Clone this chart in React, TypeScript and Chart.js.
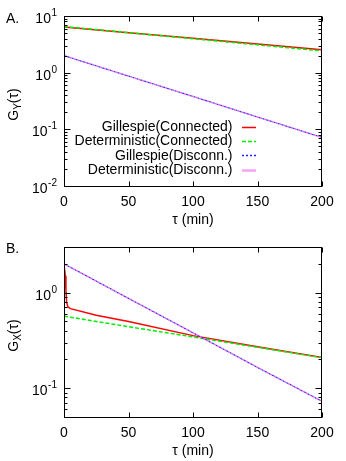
import React, { useEffect, useRef } from "react";
import { Chart, registerables } from "chart.js";
Chart.register(...registerables);

// ---- data ----
const tauA = [0, 50, 100, 150, 200];
const aGillespieConnected = [6.4, 5.08, 4.04, 3.21, 2.55];
const aDeterministicConnected = [6.5, 5.09, 3.97, 3.1, 2.42];
const aGillespieDisconn = [2.0, 0.87, 0.38, 0.165, 0.072];
const aDeterministicDisconn = [2.0, 0.87, 0.38, 0.165, 0.072];

const tauBGillespie = [0, 1, 1.5, 2, 3, 5, 25, 50, 100, 150, 200];
const bGillespieConnected = [2.0, 1.5, 1.05, 0.8, 0.71, 0.68, 0.58, 0.5, 0.355, 0.272, 0.21];
const tauB = [0, 50, 100, 150, 200];
const bDeterministicConnected = [0.567, 0.44, 0.344, 0.268, 0.209];
const bGillespieDisconn = [2.0, 0.87, 0.38, 0.165, 0.073];
const bDeterministicDisconn = [2.0, 0.87, 0.38, 0.165, 0.073];

const xTicks = [0, 50, 100, 150, 200];
const aYMajor = [0.01, 0.1, 1, 10];
const aYMajorExp = ["-2", "-1", "0", "1"];
const aYMinor = [0.02, 0.03, 0.04, 0.05, 0.06, 0.07, 0.08, 0.09, 0.2, 0.3, 0.4, 0.5, 0.6, 0.7, 0.8, 0.9, 2, 3, 4, 5, 6, 7, 8, 9];
const bYMajor = [0.1, 1];
const bYMajorExp = ["-1", "0"];
const bYMinor = [0.05, 0.06, 0.07, 0.08, 0.09, 0.2, 0.3, 0.4, 0.5, 0.6, 0.7, 0.8, 0.9, 2, 3];
const legendLabels = ["Gillespie(Connected)", "Deterministic(Connected)", "Gillespie(Disconn.)", "Deterministic(Disconn.)"];

const FONT = '"Liberation Sans", Arial, Helvetica, sans-serif';

const pts = (xs: number[], ys: number[]) => xs.map((x, i) => ({ x, y: ys[i] }));

type PanelCfg = {
  panel: string;
  sub: string;
  yMin: number;
  yMax: number;
  yMajor: number[];
  yMajorExp: string[];
  yMinor: number[];
  legend: boolean;
  padTop: number;
  padBottom: number;
  height: number;
  series: { gc: any[]; dc: any[]; gd: any[]; dd: any[] };
};

function makePlugin(cfg: PanelCfg) {
  return {
    id: "gnuplotDecor" + cfg.panel,
    afterDraw(chart: any) {
      const ctx = chart.ctx as CanvasRenderingContext2D;
      const xs = chart.scales.x;
      const ys = chart.scales.y;
      const a = chart.chartArea;
      const L = Math.round(a.left) + 0.5;
      const R = Math.round(a.right) - 0.5;
      const T = Math.round(a.top) + 0.5;
      const B = Math.round(a.bottom) + 0.5;
      ctx.save();
      ctx.strokeStyle = "#000";
      ctx.lineWidth = 1;
      ctx.setLineDash([]);
      // frame
      ctx.strokeRect(L, T, R - L, B - T);
      // ticks
      ctx.beginPath();
      for (const v of xTicks) {
        const px = Math.round(xs.getPixelForValue(v)) + 0.5;
        ctx.moveTo(px, B);
        ctx.lineTo(px, B - 5);
        ctx.moveTo(px, T);
        ctx.lineTo(px, T + 5);
      }
      for (const v of cfg.yMajor) {
        const py = Math.round(ys.getPixelForValue(v)) + 0.5;
        ctx.moveTo(L, py);
        ctx.lineTo(L + 6, py);
        ctx.moveTo(R, py);
        ctx.lineTo(R - 6, py);
      }
      for (const v of cfg.yMinor) {
        const py = Math.round(ys.getPixelForValue(v)) + 0.5;
        ctx.moveTo(L, py);
        ctx.lineTo(L + 3, py);
        ctx.moveTo(R, py);
        ctx.lineTo(R - 3, py);
      }
      ctx.stroke();

      ctx.fillStyle = "#000";
      // x tick labels
      ctx.font = `14px ${FONT}`;
      ctx.textAlign = "center";
      ctx.textBaseline = "middle";
      for (const v of xTicks) {
        ctx.fillText(String(v), xs.getPixelForValue(v), B + 16);
      }
      // x title
      ctx.fillText("\u03c4 (min)", (L + R) / 2, B + 34);

      // y tick labels with superscripts
      cfg.yMajor.forEach((v, i) => {
        const py = ys.getPixelForValue(v);
        const exp = cfg.yMajorExp[i];
        ctx.textAlign = "left";
        ctx.textBaseline = "alphabetic";
        ctx.font = `14px ${FONT}`;
        const bw = ctx.measureText("10").width;
        ctx.font = `10px ${FONT}`;
        const ew = ctx.measureText(exp).width;
        const x0 = 57 - ew - bw - 0.5;
        ctx.font = `14px ${FONT}`;
        ctx.fillText("10", x0, py + 7);
        ctx.font = `10px ${FONT}`;
        ctx.fillText(exp, x0 + bw + 0.5, py);
      });

      // y title G_sub(τ), rotated
      ctx.save();
      ctx.translate(13, (T + B) / 2 + 3);
      ctx.rotate(-Math.PI / 2);
      ctx.textBaseline = "alphabetic";
      ctx.textAlign = "left";
      ctx.font = `14px ${FONT}`;
      const gw = ctx.measureText("G").width;
      const pw = ctx.measureText("(\u03c4)").width;
      ctx.font = `10px ${FONT}`;
      const sw = ctx.measureText(cfg.sub).width;
      const total = gw + sw + pw;
      let cx = -total / 2;
      ctx.font = `14px ${FONT}`;
      ctx.fillText("G", cx, 5);
      cx += gw;
      ctx.font = `10px ${FONT}`;
      ctx.fillText(cfg.sub, cx, 8);
      cx += sw;
      ctx.font = `14px ${FONT}`;
      ctx.fillText("(\u03c4)", cx, 5);
      ctx.restore();

      // panel label
      ctx.font = `14px ${FONT}`;
      ctx.textAlign = "left";
      ctx.textBaseline = "alphabetic";
      ctx.fillText(cfg.panel, 6, 22.5);

      // legend
      if (cfg.legend) {
        const rows = [126.7, 141, 155.3, 170];
        const styles = [
          { c: "#ff0000", w: 1.5, d: [] as number[] },
          { c: "#00ee00", w: 1.5, d: [4, 2] },
          { c: "#2020ff", w: 1.3, d: [2, 2] },
          { c: "#f4a4f4", w: 2.5, d: [] as number[] },
        ];
        ctx.font = `14px ${FONT}`;
        ctx.textAlign = "right";
        ctx.textBaseline = "middle";
        legendLabels.forEach((lab, i) => {
          const y = rows[i];
          ctx.fillStyle = "#000";
          ctx.fillText(lab, 232.5, y + 0.5);
          const s = styles[i];
          ctx.beginPath();
          ctx.strokeStyle = s.c;
          ctx.lineWidth = s.w;
          ctx.setLineDash(s.d);
          ctx.moveTo(242, Math.round(y) + 0.5);
          ctx.lineTo(256, Math.round(y) + 0.5);
          ctx.stroke();
        });
        ctx.setLineDash([]);
      }
      ctx.restore();
    },
  };
}

function Panel({ cfg, top }: { cfg: PanelCfg; top: number }) {
  const ref = useRef<HTMLCanvasElement | null>(null);
  useEffect(() => {
    if (!ref.current) return;
    const chart = new Chart(ref.current, {
      type: "line",
      data: {
        datasets: [
          {
            label: legendLabels[3],
            data: cfg.series.dd,
            borderColor: "#ee66ee",
            borderWidth: 1.5,
            borderDash: [2, 2],
            borderDashOffset: 2,
            pointRadius: 0,
            tension: 0,
          },
          {
            label: legendLabels[2],
            data: cfg.series.gd,
            borderColor: "#3030ee",
            borderWidth: 1.2,
            borderDash: [2, 2],
            pointRadius: 0,
            tension: 0,
          },
          {
            label: legendLabels[1],
            data: cfg.series.dc,
            borderColor: "#00ee00",
            borderWidth: 1.5,
            borderDash: [4, 2],
            pointRadius: 0,
            tension: 0,
          },
          {
            label: legendLabels[0],
            data: cfg.series.gc,
            borderColor: "#ff0000",
            borderWidth: 1.5,
            pointRadius: 0,
            tension: 0,
          },
        ],
      },
      options: {
        responsive: false,
        animation: false,
        parsing: true,
        layout: { padding: { left: 64, right: 24, top: cfg.padTop, bottom: cfg.padBottom } },
        plugins: { legend: { display: false }, tooltip: { enabled: false } },
        scales: {
          x: { type: "linear", min: 0, max: 200, display: false },
          y: { type: "logarithmic", min: cfg.yMin, max: cfg.yMax, display: false },
        },
      },
      plugins: [makePlugin(cfg)],
    });
    return () => chart.destroy();
  }, []);
  return (
    <canvas
      ref={ref}
      width={346}
      height={cfg.height}
      style={{ position: "absolute", left: 0, top, width: 346, height: cfg.height, display: "block" }}
    />
  );
}

const panelA: PanelCfg = {
  panel: "A.",
  sub: "Y",
  yMin: 0.01,
  yMax: 10,
  yMajor: aYMajor,
  yMajorExp: aYMajorExp,
  yMinor: aYMinor,
  legend: true,
  padTop: 16,
  padBottom: 44,
  height: 230,
  series: {
    gc: pts(tauA, aGillespieConnected),
    dc: pts(tauA, aDeterministicConnected),
    gd: pts(tauA, aGillespieDisconn),
    dd: pts(tauA, aDeterministicDisconn),
  },
};

const panelB: PanelCfg = {
  panel: "B.",
  sub: "X",
  yMin: 0.05,
  yMax: 3,
  yMajor: bYMajor,
  yMajorExp: bYMajorExp,
  yMinor: bYMinor,
  legend: false,
  padTop: 17,
  padBottom: 44,
  height: 231,
  series: {
    gc: pts(tauBGillespie, bGillespieConnected),
    dc: pts(tauB, bDeterministicConnected),
    gd: pts(tauB, bGillespieDisconn),
    dd: pts(tauB, bDeterministicDisconn),
  },
};

export default function App() {
  return (
    <div style={{ position: "absolute", left: 0, top: 0, width: 346, height: 461, background: "#fff" }}>
      <Panel cfg={panelA} top={0} />
      <Panel cfg={panelB} top={230} />
    </div>
  );
}
